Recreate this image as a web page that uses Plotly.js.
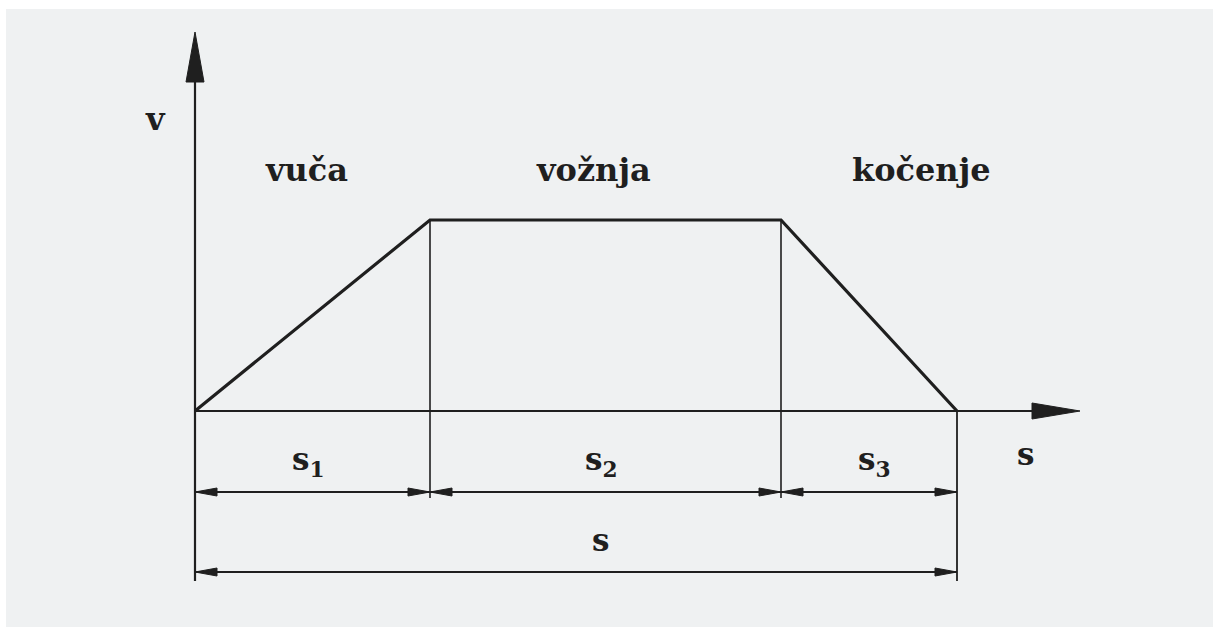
<!DOCTYPE html>
<html>
<head>
<meta charset="utf-8">
<script src="https://cdn.plot.ly/plotly-3.0.1.min.js"></script>
<style>html,body{margin:0;padding:0;background:#fff;}#chart{width:1213px;height:629px;}</style>
</head>
<body>
<div id="chart"></div>
<script>
// ---- data (units: 1 unit = 100 px of the reference) ----
const sBreaks   = [0, 2.35, 5.86, 7.62];   // boundaries of s1, s2, s3
const vProfile  = [0, 1.91, 1.91, 0];      // speed at those boundaries
const phaseLabels = ['vuča', 'vožnja', 'kočenje'];
const segLabels   = ['s<sub>1</sub>', 's<sub>2</sub>', 's<sub>3</sub>'];
const totalLabel  = 's';
const xAxisLabel  = 's';
const yAxisLabel  = 'v';

// ---- geometry helpers (layout only) ----
const W = 1213, H = 629, PX = 100;          // px per unit
const x0px = 195, y0px = 411;               // origin in pixels
const xr = [-x0px / PX, (W - x0px) / PX];
const yr = [-(H - y0px) / PX, y0px / PX];
const ink = '#1f1f1f';
const sEnd = sBreaks[sBreaks.length - 1];
const vTop = Math.max(...vProfile);

const xTip = 8.85, yTip = 3.79;             // axis arrow tips
const dimY1 = -0.81, dimY2 = -1.61;         // dimension lines
const extLow1 = -0.87, extLow2 = -1.70;     // extension line ends

const traces = [];
function line(xs, ys, w) {
  traces.push({x: xs, y: ys, mode: 'lines', line: {color: ink, width: w}, hoverinfo: 'skip', showlegend: false});
}
function tri(xs, ys) {
  traces.push({x: xs, y: ys, mode: 'lines', fill: 'toself', fillcolor: ink, line: {color: ink, width: 1}, hoverinfo: 'skip', showlegend: false});
}
// arrowhead pointing along +/-x at (xt, yt): length L px, half-height h px
function hArrow(xt, yt, dir, L, h) {
  tri([xt, xt - dir * L / PX, xt - dir * L / PX, xt], [yt, yt + h / PX, yt - h / PX, yt]);
}

// velocity profile
line(sBreaks, vProfile, 3.2);

// axes
line([0, 0], [extLow2, yTip - 0.45], 2.2);
tri([0, -0.09, 0.09, 0], [yTip, yTip - 0.50, yTip - 0.50, yTip]);
line([0, xTip - 0.4], [0, 0], 2.2);
tri([xTip, xTip - 0.48, xTip - 0.48, xTip], [0, 0.08, -0.08, 0]);

// extension lines
line([sBreaks[1], sBreaks[1]], [vProfile[1], extLow1], 1.6);
line([sBreaks[2], sBreaks[2]], [vProfile[2], extLow1], 1.6);
line([sEnd, sEnd], [0, extLow2], 1.8);

// dimension lines s1, s2, s3
for (let i = 0; i < 3; i++) {
  const a = sBreaks[i], b = sBreaks[i + 1];
  line([a, b], [dimY1, dimY1], 2);
  hArrow(a, dimY1, -1, 22, 4);
  hArrow(b, dimY1, 1, 22, 4);
}
// total s
line([0, sEnd], [dimY2, dimY2], 2);
hArrow(0, dimY2, -1, 22, 4);
hArrow(sEnd, dimY2, 1, 22, 4);

// ---- annotations ----
const font = {family: 'DejaVu Serif, serif', size: 32, color: ink, weight: 'bold'};
const sfont = {family: 'DejaVu Serif, serif', size: 31, color: ink, weight: 'bold'};
const ann = [];
function txt(x, y, t, f) {
  ann.push({x: x, y: y, xref: 'x', yref: 'y', text: t, showarrow: false, font: f, xanchor: 'center', yanchor: 'middle'});
}
const phaseOffsets = [-0.06, -0.12, 0.52];
for (let i = 0; i < 3; i++) {
  const mid = (sBreaks[i] + sBreaks[i + 1]) / 2;
  txt(mid + phaseOffsets[i], vTop + 0.50, phaseLabels[i], font);
}
const segOffsets = [-0.04, -0.04, 0.05];
for (let i = 0; i < 3; i++) {
  const mid = (sBreaks[i] + sBreaks[i + 1]) / 2;
  txt(mid + segOffsets[i], -0.50, segLabels[i], sfont);
}
txt(sEnd / 2 + 0.24, -1.29, totalLabel, sfont);
txt(8.30, -0.43, xAxisLabel, sfont);
txt(-0.40, 2.92, yAxisLabel, font);

const layout = {
  width: W, height: H,
  margin: {l: 0, r: 0, t: 0, b: 0},
  paper_bgcolor: '#ffffff',
  plot_bgcolor: 'rgba(0,0,0,0)',
  xaxis: {range: xr, visible: false, fixedrange: true},
  yaxis: {range: yr, visible: false, fixedrange: true},
  shapes: [{type: 'rect', xref: 'paper', yref: 'paper', x0: 6 / W, x1: 1, y0: 2 / H, y1: 1 - 9 / H,
            fillcolor: '#eff1f2', line: {width: 0}, layer: 'below'}],
  annotations: ann,
  showlegend: false
};
Plotly.newPlot('chart', traces, layout, {displayModeBar: false, staticPlot: true});
</script>
</body>
</html>
